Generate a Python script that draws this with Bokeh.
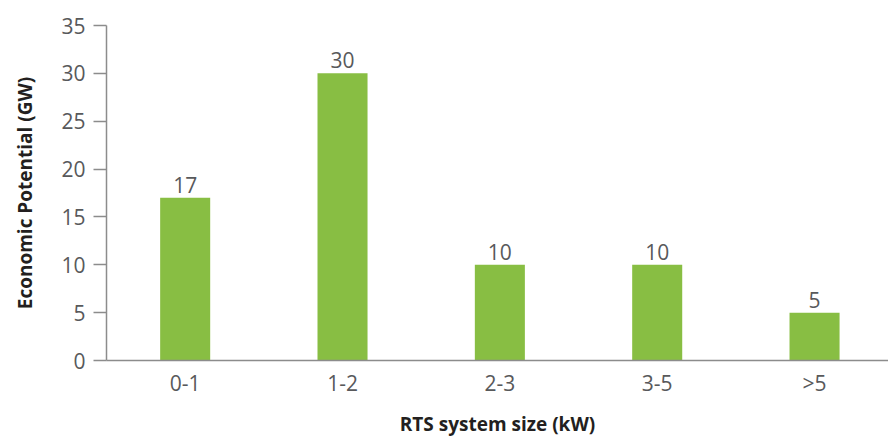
from bokeh.plotting import figure
from bokeh.models import Range1d, FixedTicker, ColumnDataSource
from bokeh.core.properties import value
from bokeh.embed import file_html
from bokeh.resources import INLINE

categories = ["0-1", "1-2", "2-3", "3-5", ">5"]
potential_gw = [17, 30, 10, 10, 5]
y_ticks = [0, 5, 10, 15, 20, 25, 30, 35]
x_title = "RTS system size (kW)"
y_title = "Economic Potential (GW)"

FONT = "Open Sans"
GREEN = "#88be43"
TEXT = "#58595b"

xs = list(range(len(categories)))
src = ColumnDataSource(dict(x=xs, top=potential_gw, label=[str(v) for v in potential_gw]))

p = figure(width=888, height=439, output_backend="svg", toolbar_location=None,
           x_range=Range1d(-0.5, 4.47), y_range=Range1d(0, 35),
           min_border_left=106, min_border_right=0, min_border_top=25, min_border_bottom=79)
p.outline_line_color = None
p.background_fill_color = "white"
p.border_fill_color = "white"
p.grid.visible = False

p.vbar(x="x", top="top", width=0.318, bottom=0, source=src, fill_color=GREEN, line_color=None)
p.text(x="x", y="top", text="label", source=src, text_align="center", text_baseline="bottom",
       y_offset=-5, text_font=value(FONT), text_font_size="21px", text_color=TEXT)

# x axis
p.xaxis.ticker = FixedTicker(ticks=xs)
p.xaxis.major_label_overrides = {i: c for i, c in enumerate(categories)}
p.xaxis.major_tick_out = 0
p.xaxis.major_tick_in = 0
p.xaxis.minor_tick_line_color = None
p.xaxis.major_label_standoff = 8
p.xaxis.axis_label = x_title
p.xaxis.axis_label_standoff = 11

# y axis
p.yaxis.ticker = FixedTicker(ticks=y_ticks)
p.yaxis.major_tick_out = 13
p.yaxis.major_tick_in = 0
p.yaxis.minor_tick_line_color = None
p.yaxis.major_label_standoff = 8
p.yaxis.axis_label = y_title
p.yaxis.axis_label_standoff = 20

for ax in (p.xaxis, p.yaxis):
    ax.axis_line_color = "#8c8c8c"
    ax.axis_line_width = 1.5
    ax.major_tick_line_color = "#8c8c8c"
    ax.major_tick_line_width = 1.5
    ax.major_label_text_font = FONT
    ax.major_label_text_font_size = "21px"
    ax.major_label_text_color = TEXT
    ax.axis_label_text_font = FONT
    ax.axis_label_text_font_size = "19px"
    ax.axis_label_text_font_style = "bold"
    ax.axis_label_text_color = "#231f20"

open("out.html", "w").write(file_html(p, INLINE))
